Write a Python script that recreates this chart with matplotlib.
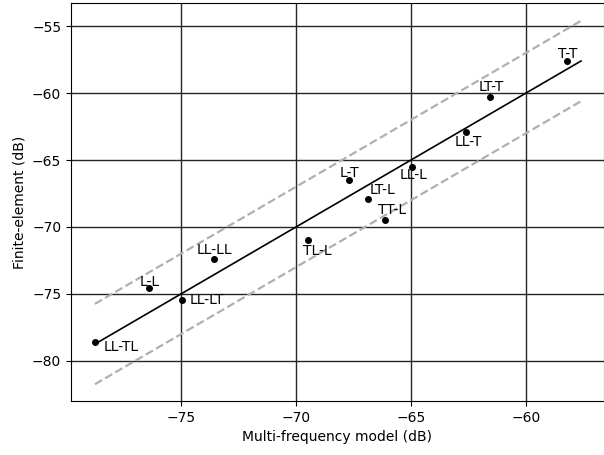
import matplotlib
matplotlib.use("Agg")
import matplotlib.pyplot as plt
import numpy as np

# mode pairs and their levels (dB)
labels = ["LL-TL", "L-L", "LL-LT", "LL-LL", "TL-L", "L-T", "LT-L",
          "TT-L", "LL-L", "LL-T", "LT-T", "T-T"]
multi_freq = [-78.74, -76.38, -74.96, -73.55, -69.49, -67.68, -66.86,
              -66.13, -64.97, -62.61, -61.57, -58.20]
finite_elem = [-78.58, -74.53, -75.43, -72.37, -70.99, -66.49, -67.89,
               -69.45, -65.52, -62.93, -60.30, -57.61]
band_db = 3.0

# label offsets in points (dx, dy), text centred
offsets = [(19, -4), (0, 4), (18, 0), (0, 6), (7, -8), (0, 5), (10, 6),
           (5, 7), (1, -6), (2, -7), (1, 7), (0, 5)]

fig = plt.figure(figsize=(6.04, 4.55), dpi=100)
ax = fig.add_axes([71 / 604, 1 - 401 / 455, 533 / 604, 398 / 455])

x = np.array(multi_freq)
y = np.array(finite_elem)
lo = min(x.min(), y.min())
hi = max(x.max(), y.max())
ref = np.array([lo, hi])

ax.plot(ref, ref, color="k", lw=1.2, zorder=3)
ax.plot(ref, ref + band_db, color="#b0b0b0", ls="--", lw=1.6, zorder=2)
ax.plot(ref, ref - band_db, color="#b0b0b0", ls="--", lw=1.6, zorder=2)
ax.plot(x, y, "o", color="k", ms=4, zorder=4)

for lab, xi, yi, (dx, dy) in zip(labels, x, y, offsets):
    ax.annotate(lab, (xi, yi), xytext=(dx, dy), textcoords="offset points",
                ha="center", va="center", fontsize=10, zorder=5)

ax.set_xlim(-79.78, -56.61)
ax.set_ylim(-82.99, -53.28)
ax.set_xticks([-75, -70, -65, -60])
ax.set_yticks([-80, -75, -70, -65, -60, -55])
ax.grid(True, color="0.15", lw=1.0)
ax.set_axisbelow(True)
ax.set_xlabel("Multi-frequency model (dB)")
ax.set_ylabel("Finite-element (dB)")

fig.savefig("out.png", dpi=100)
